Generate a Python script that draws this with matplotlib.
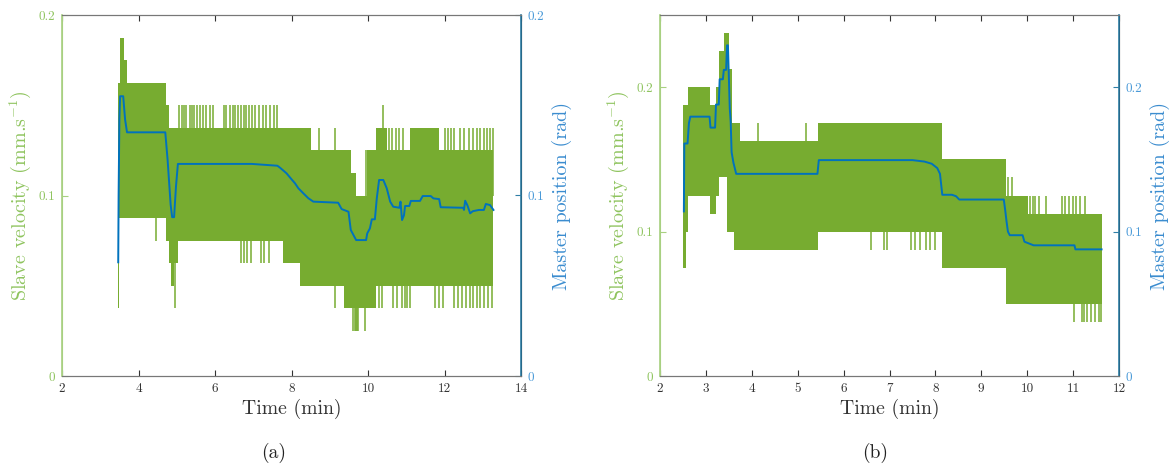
import matplotlib
matplotlib.use('Agg')
import matplotlib.pyplot as plt
import numpy as np

plt.rcParams['font.family'] = ['cmr10', 'DejaVu Serif']
plt.rcParams['mathtext.fontset'] = 'cm'
plt.rcParams['axes.formatter.use_mathtext'] = True

GREEN = '#77ac30'
BLUE = '#0072bd'

# ---------------- (a) ----------------
# slave velocity: band of the fast oscillation (start time, low level, high level)
a_band_t = [3.47, 3.49, 3.52, 3.61, 3.70, 4.71, 4.80, 4.84, 4.94, 5.04, 7.78, 8.22, 8.50,
            9.37, 9.56, 9.69, 9.97, 10.21, 10.50, 11.10, 11.86, 13.28]
a_band_lo = [0.0375, 0.0875, 0.0875, 0.0875, 0.0875, 0.075, 0.0625, 0.05, 0.0625, 0.075, 0.0625,
             0.05, 0.05, 0.0375, 0.0375, 0.0375, 0.0375, 0.05, 0.05, 0.05, 0.05, 0.05]
a_band_hi = [0.1625, 0.1625, 0.1875, 0.175, 0.1625, 0.15, 0.1375, 0.1375, 0.1375, 0.1375, 0.1375,
             0.1375, 0.125, 0.125, 0.1125, 0.1, 0.125, 0.1375, 0.125, 0.1375, 0.125, 0.125]
a_up_t = [5.07, 5.13, 5.19, 5.25, 5.34, 5.41, 5.46, 5.53, 5.61, 5.68, 5.76, 5.87, 5.95, 6.23,
          6.30, 6.38, 6.46, 6.52, 6.59, 6.67, 6.75, 6.81, 6.88, 6.96, 7.05, 7.15, 7.25, 7.34,
          7.44, 7.54, 7.61, 8.73, 9.15, 9.95, 10.38, 10.56, 10.64, 10.72, 10.82, 10.91,
          12.02, 12.09, 12.17, 12.24, 12.41, 12.50, 12.63, 12.75, 12.84, 12.94, 13.03, 13.11,
          13.18, 13.26]
a_up_v = [0.15] * 31 + [0.1375, 0.1375, 0.125, 0.15, 0.1375, 0.1375, 0.1375, 0.1375, 0.1375] + [0.1375] * 14
a_dn_t = [4.46, 4.95, 6.69, 6.77, 6.83, 6.93, 7.20, 7.27, 7.41, 9.15, 9.62, 9.65, 9.68, 9.71,
          9.74, 9.93, 10.29, 10.36, 10.65, 10.77, 10.88, 10.96, 11.01, 11.09, 11.76, 11.85,
          11.95, 12.26, 12.36, 12.46, 12.55, 12.67, 12.75, 12.84, 12.94, 13.03, 13.13, 13.23]
a_dn_v = [0.075, 0.0375] + [0.0625] * 7 + [0.0375] + [0.025] * 6 + [0.0375] * 22
# master position
a_pos_t = [3.47, 3.48, 3.50, 3.52, 3.60, 3.65, 3.70, 4.70, 4.76, 4.84, 4.88, 4.93, 4.98, 5.03,
           6.96, 7.63, 7.70, 7.87, 8.00, 8.09, 8.18, 8.31, 8.44, 8.57, 9.22, 9.31, 9.49, 9.55,
           9.69, 9.95, 9.98, 10.05, 10.10, 10.18, 10.23, 10.29, 10.40, 10.49, 10.58, 10.66,
           10.82, 10.85, 10.89, 10.94, 10.97, 11.08, 11.12, 11.36, 11.43, 11.64, 11.71, 11.86,
           11.90, 12.49, 12.51, 12.54, 12.60, 12.67, 12.74, 12.90, 13.03, 13.08, 13.19, 13.28]
a_pos_v = [0.063, 0.1, 0.1424, 0.155, 0.155, 0.142, 0.135, 0.135, 0.12, 0.095, 0.088, 0.088,
           0.105, 0.1175, 0.1175, 0.1165, 0.1154, 0.1123, 0.109, 0.1068, 0.104, 0.1012, 0.0985,
           0.0966, 0.096, 0.0925, 0.091, 0.0809, 0.0753, 0.0753, 0.079, 0.0818, 0.0868, 0.0868,
           0.0985, 0.1086, 0.1086, 0.104, 0.0966, 0.0938, 0.0932, 0.0966, 0.0864, 0.089, 0.0942,
           0.0942, 0.097, 0.097, 0.0997, 0.0997, 0.0984, 0.098, 0.0935, 0.0932, 0.092, 0.0971,
           0.0945, 0.0901, 0.0913, 0.092, 0.092, 0.0953, 0.0947, 0.092]

# ---------------- (b) ----------------
b_band_t = [2.51, 2.57, 2.62, 3.09, 3.22, 3.29, 3.40, 3.45, 3.50, 3.57, 3.62, 3.74, 5.45,
            8.15, 9.54, 10.02, 11.63]
b_band_lo = [0.075, 0.1, 0.125, 0.1125, 0.125, 0.1375, 0.1375, 0.1, 0.1, 0.1, 0.0875, 0.0875,
             0.1, 0.075, 0.05, 0.05, 0.05]
b_band_hi = [0.1875, 0.1875, 0.2, 0.1875, 0.2, 0.225, 0.2375, 0.2375, 0.2125, 0.175, 0.175,
             0.1625, 0.175, 0.15, 0.125, 0.1125, 0.1125]
b_up_t = [4.14, 5.17, 9.59, 9.67, 10.06, 10.12, 10.18, 10.26, 10.42, 10.75, 10.83, 10.91,
          10.99, 11.07, 11.15, 11.27]
b_up_v = [0.175, 0.175, 0.1375, 0.1375] + [0.125] * 12
b_dn_t = [6.60, 6.87, 6.95, 7.47, 7.55, 7.66, 7.80, 7.88, 8.00, 11.03, 11.19, 11.23, 11.31,
          11.39, 11.47, 11.56, 11.60]
b_dn_v = [0.0875] * 9 + [0.0375] * 8
b_pos_t = [2.52, 2.53, 2.60, 2.63, 2.66, 3.08, 3.10, 3.20, 3.22, 3.28, 3.30, 3.37, 3.39, 3.44,
           3.46, 3.48, 3.52, 3.54, 3.56, 3.60, 3.66, 5.43, 5.46, 7.50, 7.76, 7.92, 8.04, 8.10,
           8.15, 8.36, 8.45, 8.52, 9.49, 9.52, 9.55, 9.58, 9.62, 9.90, 9.94, 10.06, 10.14, 11.03,
           11.05, 11.62]
b_pos_v = [0.114, 0.161, 0.161, 0.175, 0.1796, 0.1796, 0.172, 0.172, 0.188, 0.188, 0.2055,
           0.2055, 0.212, 0.212, 0.229, 0.229, 0.1854, 0.176, 0.155, 0.1477, 0.14, 0.14, 0.1495,
           0.1495, 0.1485, 0.147, 0.144, 0.14, 0.1255, 0.1255, 0.1245, 0.1222, 0.1222, 0.115,
           0.107, 0.1, 0.0975, 0.0975, 0.093, 0.0915, 0.0905, 0.0905, 0.0877, 0.0877]

panels = [
    dict(band=(a_band_t, a_band_lo, a_band_hi), up=(a_up_t, a_up_v), dn=(a_dn_t, a_dn_v),
         pos=(a_pos_t, a_pos_v), xlim=(2, 14), xticks=list(range(2, 15, 2)), ylim=(0, 0.2),
         rect=[62, 15, 521, 376], cap='(a)', capx=274),
    dict(band=(b_band_t, b_band_lo, b_band_hi), up=(b_up_t, b_up_v), dn=(b_dn_t, b_dn_v),
         pos=(b_pos_t, b_pos_v), xlim=(2, 12), xticks=list(range(2, 13)), ylim=(0, 0.25),
         rect=[660, 15, 1119, 376], cap='(b)', capx=875),
]

W, H = 1172, 467
fig = plt.figure(figsize=(W / 100, H / 100), dpi=100)

for p in panels:
    x0, y0, x1, y1 = p['rect']
    ax = fig.add_axes([x0 / W, 1 - y1 / H, (x1 - x0) / W, (y1 - y0) / H])
    ax2 = ax.twinx()

    t, lo, hi = p['band']
    ax.fill_between(t, lo, hi, step='post', color=GREEN, linewidth=0)
    ax.vlines(p['up'][0], 0.1, p['up'][1], color=GREEN, linewidth=1.1)
    ax.vlines(p['dn'][0], p['dn'][1], 0.1, color=GREEN, linewidth=1.1)
    ax2.plot(p['pos'][0], p['pos'][1], color=BLUE, linewidth=1.4)

    for a in (ax, ax2):
        a.set_xlim(*p['xlim'])
        a.set_ylim(*p['ylim'])
        a.set_yticks([0, 0.1, 0.2])
        a.set_yticklabels(['0', '0.1', '0.2'])
    ax.set_xticks(p['xticks'])
    ax.set_xticklabels([str(v) for v in p['xticks']])

    ax.tick_params(axis='x', direction='in', length=4, width=0.8, top=True, colors='#333333',
                   labelsize=9.5, pad=5)
    ax.tick_params(axis='y', direction='in', length=4, width=0.8, colors='#a8d081',
                   labelcolor='#8fc45f', labelsize=9.5, pad=5)
    ax2.tick_params(axis='y', direction='in', length=4, width=0.8, colors='#2f7fa6',
                    labelcolor='#4a9ad8', labelsize=9.5, pad=5)

    for s in ('top', 'bottom'):
        ax.spines[s].set_color('#777777')
        ax2.spines[s].set_color('#777777')
    ax2.spines['left'].set_color('#a8d081')
    ax.spines['left'].set_color('#a8d081')
    ax2.spines['right'].set_color('#2f7fa6')
    ax2.spines['right'].set_linewidth(1.2)
    ax2.spines['left'].set_linewidth(1.2)

    ax.set_xlabel('Time (min)', fontsize=14.2, color='#333333', labelpad=3)
    ax.set_ylabel('Slave velocity (mm.s$^{-1}$)', fontsize=14.5, color='#8fc45f', labelpad=4)
    ax2.set_ylabel('Master position (rad)', fontsize=14.5, color='#3a8ccf', labelpad=5)

    fig.text(p['capx'] / W, 1 - 453 / H, p['cap'], fontsize=14, ha='center', va='center',
             color='#222222')

fig.savefig('out.png', dpi=100)
